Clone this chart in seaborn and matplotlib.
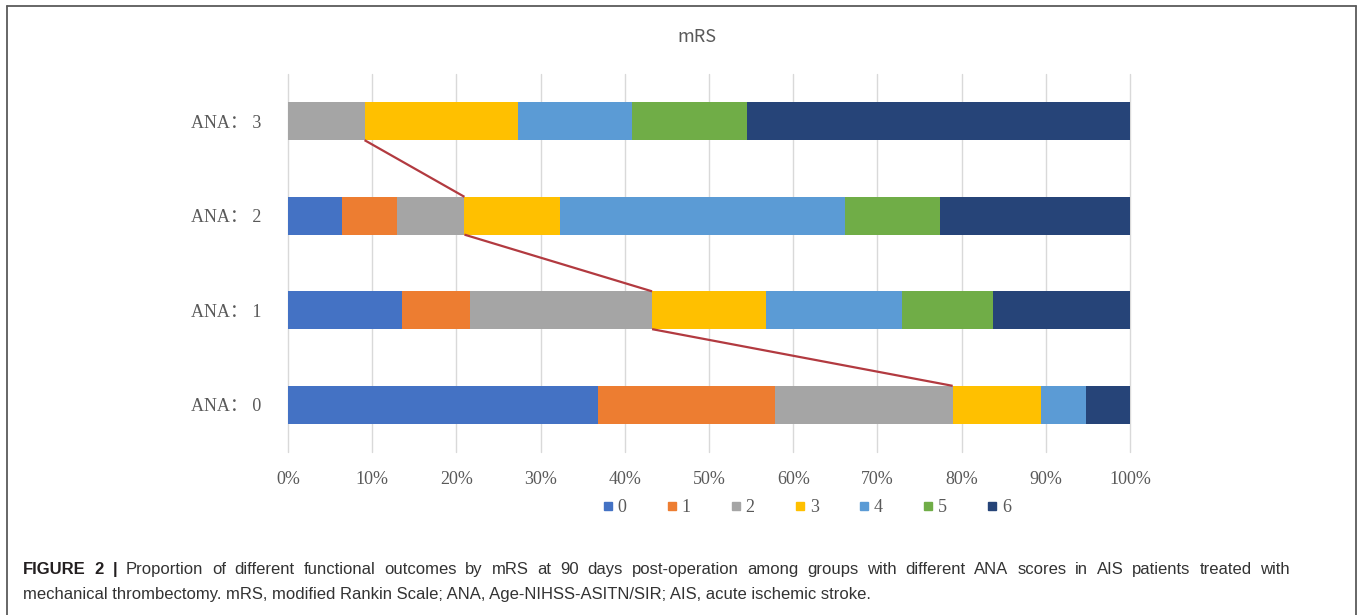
import matplotlib
matplotlib.use("Agg")
import matplotlib.pyplot as plt
from matplotlib.lines import Line2D
import seaborn as sns
import pandas as pd

# ANA groups, top to bottom
groups = ["ANA： 3", "ANA： 2", "ANA： 1", "ANA： 0"]
mrs_levels = ["0", "1", "2", "3", "4", "5", "6"]

# share of patients (%) in each mRS grade at 90 days, per ANA group
ana3_pct = [0.0, 0.0, 9.09, 18.18, 13.64, 13.64, 45.45]
ana2_pct = [6.45, 6.45, 8.06, 11.29, 33.87, 11.29, 22.58]
ana1_pct = [13.51, 8.11, 21.62, 13.51, 16.22, 10.81, 16.22]
ana0_pct = [36.84, 21.05, 21.05, 10.53, 5.26, 0.0, 5.26]

x_ticks = [0, 10, 20, 30, 40, 50, 60, 70, 80, 90, 100]
x_tick_labels = ["0%", "10%", "20%", "30%", "40%", "50%", "60%", "70%", "80%", "90%", "100%"]

palette = ["#4472C4", "#ED7D31", "#A5A5A5", "#FFC000", "#5B9BD5", "#70AD47", "#264478"]
link_color = "#B23A40"

# long table with running totals so each grade can be stacked
rows = []
for g, vals in zip(groups, [ana3_pct, ana2_pct, ana1_pct, ana0_pct]):
    for lvl, v in zip(mrs_levels, vals):
        rows.append({"group": g, "mrs": lvl, "pct": v})
df = pd.DataFrame(rows)
df["cum"] = df.groupby("group")["pct"].cumsum()

sns.set_theme(style="white")
serif = ["Liberation Serif", "Noto Sans CJK SC"]
sans = ["Liberation Sans", "DejaVu Sans"]
grey_txt = "#595959"

W, H = 1363, 615
fig = plt.figure(figsize=(W / 100, H / 100), dpi=100)
ax = fig.add_axes([288 / W, 1 - 452 / H, (1130 - 288) / W, (452 - 74) / H])

# stacked bars: draw running totals from the last grade back to the first
for lvl, col in reversed(list(zip(mrs_levels, palette))):
    sub = df[df["mrs"] == lvl]
    sns.barplot(data=sub, x="cum", y="group", order=groups, orient="h",
                color=col, saturation=1, width=0.4, linewidth=0,
                errorbar=None, ax=ax, zorder=2)

# series lines joining the mRS 0-2 boundary between neighbouring bars
good = df[df["mrs"] == "2"].set_index("group").loc[groups, "cum"].to_numpy()
half = 0.2
for i in range(len(groups) - 1):
    ax.plot([good[i], good[i + 1]], [i + half, i + 1 - half],
            color=link_color, lw=1.6, zorder=3, solid_capstyle="butt")

ax.set_xlim(0, 100)
ax.set_ylim(len(groups) - 0.5, -0.5)
ax.set_xticks(x_ticks)
ax.set_xticklabels(x_tick_labels)
ax.set_xlabel("")
ax.set_ylabel("")
ax.xaxis.grid(True, color="#D9D9D9", lw=1.0, zorder=0)
ax.yaxis.grid(False)
ax.set_axisbelow(True)
for s in ax.spines.values():
    s.set_visible(False)
ax.tick_params(axis="x", length=0, pad=14, labelsize=13, labelcolor=grey_txt)
ax.tick_params(axis="y", length=0, pad=19, labelsize=13, labelcolor=grey_txt)
for t in ax.get_xticklabels() + ax.get_yticklabels():
    t.set_fontfamily(serif)
for gl in ax.get_xgridlines():
    gl.set_clip_on(False)

fig.text(697 / W, 1 - 37 / H, "mRS", ha="center", va="center",
         fontsize=13, color=grey_txt, family=["Noto Sans CJK SC", "DejaVu Sans"])

handles = [Line2D([], [], marker="s", ls="", color=c, markersize=5.5) for c in palette]
fig.legend(handles, mrs_levels, ncol=7, loc="center",
           bbox_to_anchor=(807 / W, 1 - 508 / H), frameon=False,
           handlelength=0.5, handletextpad=0.3, columnspacing=2.25,
           prop={"family": serif, "size": 13}, labelcolor=grey_txt)

# frame around the figure panel
frame_kw = dict(color="#5a5a5a", lw=1.3, transform=fig.transFigure)
fig.add_artist(Line2D([7 / W, 7 / W], [0, 1 - 6 / H], **frame_kw))
fig.add_artist(Line2D([7 / W, 1356 / W], [1 - 6 / H, 1 - 6 / H], **frame_kw))
fig.add_artist(Line2D([1356 / W, 1356 / W], [0, 1 - 6 / H], **frame_kw))

# caption: first line justified between the margins, second line flush left
cap_size = 12
y1 = 1 - 574 / H
y2 = 1 - 599 / H
x_left, x_right = 23, 1290
line1 = [("FIGURE", "bold"), ("2", "bold"), ("|", "bold")] + [
    (w, "normal") for w in
    ("Proportion of different functional outcomes by mRS at 90 days post-operation "
     "among groups with different ANA scores in AIS patients treated with").split()
]
renderer = fig.canvas.get_renderer()
words = []
for w, weight in line1:
    t = fig.text(0, y1, w, fontsize=cap_size, fontweight=weight, family=sans,
                 color="#231F20" if weight == "bold" else "#333333",
                 va="baseline", ha="left")
    words.append(t)
widths = [t.get_window_extent(renderer=renderer).width for t in words]
gap = (x_right - x_left - sum(widths)) / (len(words) - 1)
x = x_left
for t, wd in zip(words, widths):
    t.set_x(x / W)
    x += wd + gap
fig.text(x_left / W, y2,
         "mechanical thrombectomy. mRS, modified Rankin Scale; ANA, Age-NIHSS-ASITN/SIR; "
         "AIS, acute ischemic stroke.",
         fontsize=cap_size, family=sans, color="#333333", va="baseline", ha="left")

fig.savefig("out.png", dpi=100)
